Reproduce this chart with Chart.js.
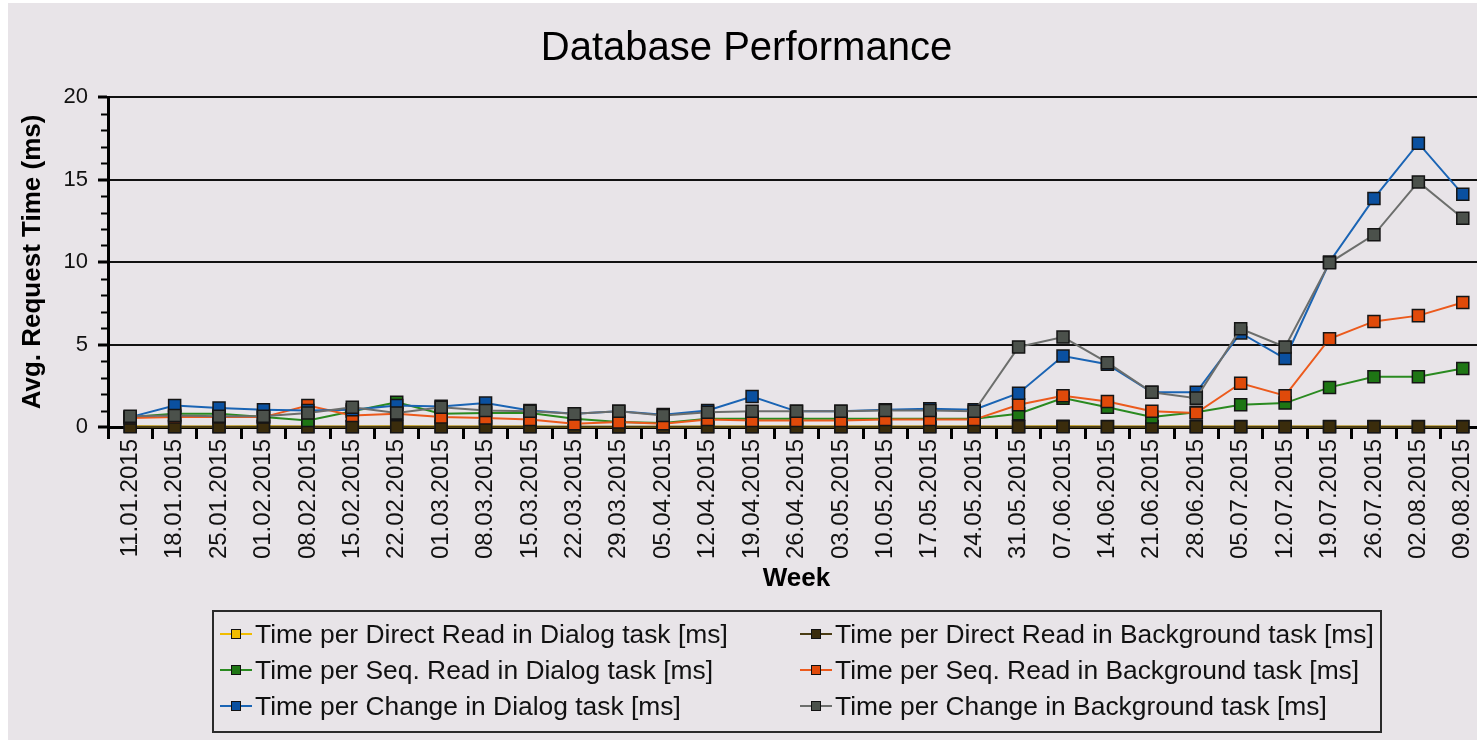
<!DOCTYPE html>
<html>
<head>
<meta charset="utf-8">
<title>Database Performance</title>
<script src="https://cdn.jsdelivr.net/npm/chart.js@4.4.1/dist/chart.umd.min.js"></script>
<style>
    html, body {
        margin: 0;
        padding: 0;
        width: 1477px;
        height: 743px;
        overflow: hidden;
        background: #ffffff;
        font-family: 'Liberation Sans', Arial, sans-serif;
    }
    .panel {
        position: absolute;
        left: 8px;
        top: 3px;
        width: 1469px;
        height: 737px;
        background: #e8e4e8;
    }
    .chart-box {
        position: absolute;
        left: 0;
        top: 0;
        width: 1500px;
        height: 743px;
    }
    .legend {
        position: absolute;
        left: 212px;
        top: 610px;
        width: 1170px;
        height: 123px;
        box-sizing: border-box;
        border: 2px solid #2a2a2a;
        padding: 4px 0 0 6px;
        display: grid;
        grid-template-columns: 580px 580px;
        grid-auto-rows: 36px;
    }
    .legend-item {
        display: flex;
        align-items: center;
        font-size: 26.4px;
        color: #111;
        white-space: nowrap;
    }
    .legend-icon {
        position: relative;
        width: 32px;
        height: 12px;
        margin-right: 3px;
        flex: none;
    }
    .legend-icon .line {
        position: absolute;
        left: 0;
        right: 0;
        top: 5px;
        height: 2px;
    }
    .legend-icon .mark {
        position: absolute;
        left: 11px;
        top: 1px;
        width: 8px;
        height: 8px;
        border: 1.5px solid #111;
    }
</style>
</head>
<body>
<div class="panel"></div>
<div class="chart-box"><canvas id="dbChart"></canvas></div>
<div class="legend" id="dbLegend"></div>

<script>
const weeks = ['11.01.2015', '18.01.2015', '25.01.2015', '01.02.2015', '08.02.2015', '15.02.2015',
    '22.02.2015', '01.03.2015', '08.03.2015', '15.03.2015', '22.03.2015', '29.03.2015', '05.04.2015',
    '12.04.2015', '19.04.2015', '26.04.2015', '03.05.2015', '10.05.2015', '17.05.2015', '24.05.2015',
    '31.05.2015', '07.06.2015', '14.06.2015', '21.06.2015', '28.06.2015', '05.07.2015', '12.07.2015',
    '19.07.2015', '26.07.2015', '02.08.2015', '09.08.2015'];

const directReadDialog = [0.04, 0.03, 0.03, 0.04, 0.03, 0.03, 0.04, 0.03, 0.03, 0.03, 0.02, 0.02, 0.02,
    0.03, 0.03, 0.03, 0.03, 0.03, 0.03, 0.03, 0.03, 0.04, 0.03, 0.03, 0.03, 0.03, 0.03, 0.03, 0.03, 0.03, 0.03];
const directReadBackground = [0.02, 0.02, 0.02, 0.02, 0.02, 0.01, 0.02, 0.02, 0.02, 0.02, 0.01, 0.01, 0.01,
    0.02, 0.02, 0.02, 0.02, 0.02, 0.02, 0.02, 0.01, 0.01, 0.01, 0.02, 0.01, 0.01, 0.01, 0.01, 0.01, 0.01, 0.01];
const seqReadDialog = [0.6, 0.8, 0.8, 0.6, 0.4, 0.95, 1.5, 0.8, 0.85, 0.85, 0.5, 0.3, 0.25,
    0.5, 0.5, 0.5, 0.5, 0.5, 0.5, 0.5, 0.8, 1.75, 1.2, 0.6, 0.9, 1.35, 1.45, 2.4, 3.05, 3.05, 3.55];
const seqReadBackground = [0.55, 0.6, 0.6, 0.6, 1.3, 0.7, 0.8, 0.6, 0.55, 0.45, 0.2, 0.3, 0.2,
    0.45, 0.4, 0.4, 0.4, 0.45, 0.45, 0.45, 1.35, 1.9, 1.55, 0.95, 0.85, 2.65, 1.9, 5.35, 6.4, 6.75, 7.55];
const changeDialog = [0.6, 1.3, 1.15, 1.05, 1.0, 1.05, 1.3, 1.25, 1.45, 1.0, 0.8, 0.95, 0.75,
    1.0, 1.85, 0.95, 0.95, 1.05, 1.1, 1.05, 2.05, 4.3, 3.8, 2.1, 2.1, 5.7, 4.15, 10.0, 13.85, 17.2, 14.1];
const changeBackground = [0.65, 0.7, 0.65, 0.65, 0.85, 1.2, 0.85, 1.2, 1.0, 0.95, 0.8, 0.95, 0.7,
    0.9, 0.95, 0.95, 0.95, 1.0, 1.0, 0.95, 4.85, 5.45, 3.9, 2.1, 1.75, 5.95, 4.85, 9.95, 11.65, 14.85, 12.65];

const yTicks = [0, 5, 10, 15, 20];

const FONT = "'Liberation Sans', Arial, sans-serif";

const seriesInfo = [
    { label: 'Time per Direct Read in Dialog task [ms]', data: directReadDialog, line: '#f0bc00', fill: '#f0bc00' },
    { label: 'Time per Direct Read in Background task [ms]', data: directReadBackground, line: '#4a3c14', fill: '#3a2c0c' },
    { label: 'Time per Seq. Read in Dialog task [ms]', data: seqReadDialog, line: '#2a8a20', fill: '#1e7614' },
    { label: 'Time per Seq. Read in Background task [ms]', data: seqReadBackground, line: '#ec5a1c', fill: '#e04a0a' },
    { label: 'Time per Change in Dialog task [ms]', data: changeDialog, line: '#1a64b4', fill: '#0a50a0' },
    { label: 'Time per Change in Background task [ms]', data: changeBackground, line: '#6c6e6c', fill: '#4b514b' }
];

// small ticks between the labelled values on the y axis
const minorTicks = {
    id: 'minorTicks',
    afterDraw(chart) {
        const y = chart.scales.y;
        const ctx = chart.ctx;
        const left = chart.chartArea.left;
        ctx.save();
        ctx.strokeStyle = '#000';
        ctx.lineWidth = 2;
        for (let v = y.min + 1; v < y.max; v++) {
            if (yTicks.includes(v)) continue;
            const py = Math.round(y.getPixelForValue(v)) + 0.5;
            ctx.beginPath();
            ctx.moveTo(left - 7, py);
            ctx.lineTo(left, py);
            ctx.stroke();
        }
        ctx.restore();
    }
};

function initChart() {
    const ctx = document.getElementById('dbChart').getContext('2d');

    const datasets = seriesInfo.map((s, i) => ({
        label: s.label,
        data: s.data,
        borderColor: s.line,
        backgroundColor: s.fill,
        borderWidth: 2,
        tension: 0,
        pointStyle: 'rect',
        pointRadius: 8.5,
        pointHoverRadius: 8.5,
        pointBackgroundColor: s.fill,
        pointBorderColor: '#151515',
        pointBorderWidth: 1.5,
        clip: false,
        order: seriesInfo.length - i
    }));

    new Chart(ctx, {
        type: 'line',
        data: { labels: weeks, datasets: datasets },
        options: {
            responsive: true,
            maintainAspectRatio: false,
            animation: false,
            layout: {
                padding: { left: 8, right: 15, top: 0, bottom: 149 }
            },
            plugins: {
                legend: { display: false },
                tooltip: { enabled: false },
                title: {
                    display: true,
                    text: 'Database Performance',
                    color: '#000',
                    font: { family: FONT, size: 40, weight: 'normal' },
                    padding: { top: 25, bottom: 24 }
                }
            },
            scales: {
                x: {
                    offset: true,
                    afterFit: function (scale) { scale.height = 167; },
                    border: { display: true, color: '#000', width: 3 },
                    grid: {
                        offset: true,
                        drawOnChartArea: false,
                        drawTicks: true,
                        tickLength: 12,
                        color: '#000',
                        lineWidth: 3
                    },
                    ticks: {
                        autoSkip: false,
                        minRotation: 90,
                        maxRotation: 90,
                        padding: 0,
                        color: '#111',
                        font: { family: FONT, size: 24 }
                    },
                    title: {
                        display: true,
                        text: 'Week',
                        color: '#000',
                        font: { family: FONT, size: 26, weight: 'bold' },
                        padding: { top: 0, bottom: 0 }
                    }
                },
                y: {
                    min: 0,
                    max: 20,
                    afterFit: function (scale) { scale.width = 100; },
                    afterBuildTicks: function (scale) {
                        scale.ticks = yTicks.map(v => ({ value: v }));
                    },
                    border: { display: true, color: '#000', width: 3 },
                    grid: {
                        color: '#111',
                        lineWidth: 2,
                        tickLength: 10,
                        tickWidth: 3,
                        tickColor: '#000'
                    },
                    ticks: {
                        padding: 10,
                        color: '#111',
                        font: { family: FONT, size: 22 }
                    },
                    title: {
                        display: true,
                        text: 'Avg. Request Time (ms)',
                        color: '#000',
                        font: { family: FONT, size: 26, weight: 'bold' },
                        padding: { top: 9, bottom: 0 }
                    }
                }
            }
        },
        plugins: [minorTicks]
    });
}

function buildLegend() {
    const box = document.getElementById('dbLegend');
    box.innerHTML = '';
    seriesInfo.forEach(s => {
        const item = document.createElement('div');
        item.className = 'legend-item';
        item.innerHTML = `
            <span class="legend-icon">
                <span class="line" style="background:${s.line}"></span>
                <span class="mark" style="background:${s.fill}"></span>
            </span>
            <span>${s.label}</span>
        `;
        box.appendChild(item);
    });
}

document.addEventListener('DOMContentLoaded', function () {
    initChart();
    buildLegend();
});
</script>
</body>
</html>
